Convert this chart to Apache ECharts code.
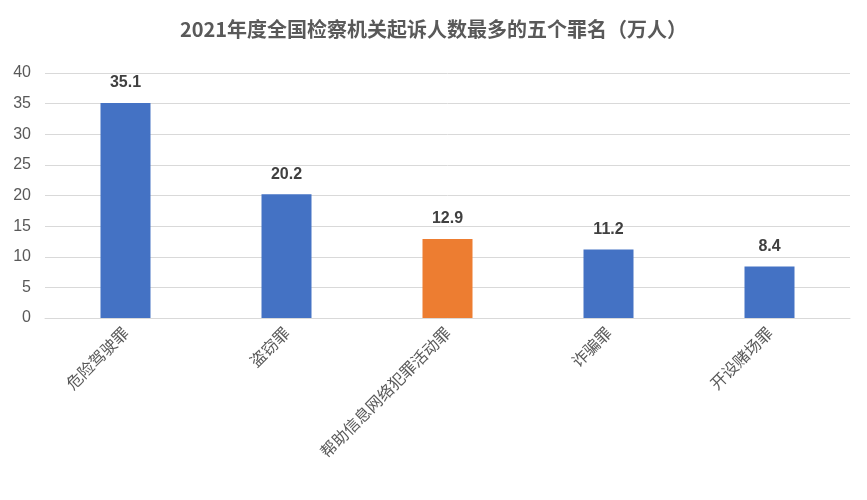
<!DOCTYPE html>
<html><head><meta charset="utf-8">
<script src="https://cdn.jsdelivr.net/npm/echarts@6/dist/echarts.min.js"></script>
<style>html,body{margin:0;padding:0;background:#fff}#c{width:867px;height:500px}</style>
</head><body><div id="c"></div>
<script>
// 罪名及人数（万人）
var categories = ["危险驾驶罪","盗窃罪","帮助信息网络犯罪活动罪","诈骗罪","开设赌场罪"];
var values = [35.1,20.2,12.9,11.2,8.4];
var barColors = ["#4472C4","#4472C4","#ED7D31","#4472C4","#4472C4"];

var chart = echarts.init(document.getElementById("c"));
chart.setOption({
    animation: false,
    title: {
        text: "2021年度全国检察机关起诉人数最多的五个罪名（万人）",
        left: "center", top: 14,
        textStyle: {fontSize: 20, fontWeight: "bold", color: "#595959", fontFamily: "Noto Sans CJK SC"}
    },
    grid: {left: 45, right: 17, top: 73, bottom: 182, containLabel: false},
    xAxis: {
        type: "category",
        data: categories,
        axisTick: {show: false},
        axisLine: {lineStyle: {color: "#d9d9d9"}},
        axisLabel: {rotate: 45, color: "#595959", fontSize: 16, fontFamily: "Noto Sans CJK SC", interval: 0, margin: 12}
    },
    yAxis: {
        type: "value", min: 0, max: 40, interval: 5,
        axisLine: {show: false}, axisTick: {show: false},
        splitLine: {lineStyle: {color: "#d9d9d9"}},
        axisLabel: {color: "#595959", fontSize: 16, fontFamily: "Liberation Sans", margin: 14}
    },
    series: [{
        type: "bar",
        barWidth: 50,
        data: values.map(function(v, i){ return {value: v, itemStyle: {color: barColors[i]}}; }),
        label: {show: true, position: "top", distance: 12, fontSize: 16, fontWeight: "bold", color: "#404040", fontFamily: "Liberation Sans"}
    }]
});
</script></body></html>
